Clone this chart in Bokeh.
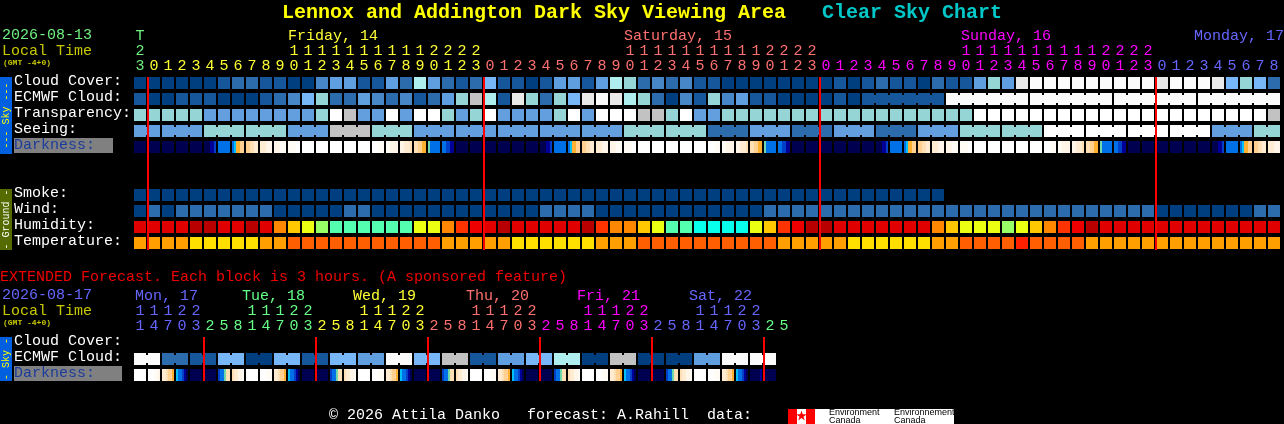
from math import pi
from bokeh.plotting import figure
from bokeh.models import ColumnDataSource
from bokeh.core.properties import value
from bokeh.embed import file_html
from bokeh.resources import INLINE

# ---------- data ----------
title_main = "Lennox and Addington Dark Sky Viewing Area"
title_chart = "Clear Sky Chart"

hours = [23] + list(range(24)) * 3 + list(range(9))
extended_hours = [11, 14, 17, 20, 23] + [2, 5, 8, 11, 14, 17, 20, 23] * 5 + [2, 5]

cloud_cover = [0,0,0,0,0,0,1,2,2,1,1,0,0,3,4,4,1,1,4,2,7,4,2,1,2,5,1,1,0,1,4,4,1,4,7,6,2,3,2,3,1,1,
               0,0,0,0,0,0,0,0,1,0,1,2,1,1,0,2,1,1,4,6,4,9,10,10,10,10,10,10,10,10,10,9,10,10,10,9,5,6,5,2]
ecmwf_values = [1,0,0,1,1,1,0,0,0,1,2,3,5,6,2,2,4,3,2,3,1,2,4,6,8,7,1,9,6,2,6,5,9,10,9,7,6,2,0,3,1,6,3,4,1,1,
                0,0,0,0,1,0,1,10,10,10,10]
ecmwf_spans = [1] * 52 + [6] * 5
# 1 blue, 2 teal, 3 grey, 4 white, 0 mid blue
transparency = [2]*5 + [1]*8 + [2,4,3,1,1,4,1,4,4,2,1,2,4,1,1,1,1,2,4,1,4,4,4,3,3,2,4,1,1] + [2]*18 + [4]*21 + [3]
seeing_values = [1,1,2,2,1,3,2,1,1,1,1,1,2,2,0,1,0,1,0,1,2,2,4,4,4,4,1,2]
seeing_spans = [2] + [3]*26 + [2]
darkness = ["NNNNNN"]*5 + ["NNNDDB","SSSSSS","SCOOPP","PPKKLL","LLLMMM","MMMVVV","VVVVWW"] + ["WWWWWW"]*5 + \
    ["WWWVVV","VVMMMM","MMLLLK","KKPPOO","GSSSSS","SSBBDD"] + ["NNNNNN"]*6 + \
    ["NNNDDB","SSSSSS","SCOOPP","PPKKLL","LLLMMM","MMMVVV","VVVVWW"] + ["WWWWWW"]*5 + \
    ["WWWVVV","VVMMMM","MMLLLK","KKPPOO","GSSSSS","SSBBDD"] + ["NNNNNN"]*6 + \
    ["NNNDDB","SSSSSS","SCOOPP","PPKKLL","LLLMMM","MMMVVV","VVVVWW"] + ["WWWWWW"]*5 + \
    ["WWWVVV","VVMMMM","MMLLLK","KKPPOO","GSSSSS","SSBBDD"] + ["NNNNNN"]*6 + \
    ["NNNDDB","SSSSSS","SCOOPP","PPKKLL","LLLMMM"]
smoke = [0] * 58
wind = [0,1,0,1,1,1,1,1,1,1,0,0,0,0,0,1,1,0,0,0,0,0,0,0,0,0,0,0,0,1,1,1,1] + [0]*12 + [1]*28 + [0]*7 + [1,1]
humidity = [1,1,1,1,0,0,1,1,0,1,4,5,6,7,8,8,8,8,8,8,6,6,4,3,2,1,0,1,1,1,1,1,0,3,4,4,5,6,8,8,9,9,9,9,6,5,3,2,0,0,1,1,
            1,1,1,1,1,4,5,6,6,6,7,6,5,4,3,2,0] + [1]*13
temperature = [1,1,1,1,0,0,0,0,0,1,1] + [2]*11 + [1]*5 + [0]*6 + [1]*3 + [2]*10 + [1]*5 + [0]*6 + [1,1,2,2,2,2,3,2,2,2,2] + [1]*14

ext_ecmwf_values = [10,2,1,5,0,5,1,5,4,10,5,8,1,4,5,7,0,8,0,0,4,10,10]
ext_ecmwf_spans = [2] * 23
ext_darkness = ["WWWWWW","WWWVVM","LLKPPO","CSSBDN","NNNNNN","NNNNNN","BSSGKK","KLLMMV","WWWWWW","WWWVVV","LLKPPO",
                "CSSBDN","NNNNNN","NNNNNN","BSSGKK","KLLMMV","WWWWWW","WWWVVV","LLKPPO","CSSBDN","NNNNNN","NNNNNN",
                "BSSGKK","KLLMMV","WWWWWW","WWWVVV","LLKPPO","CSSBDN","NNNNNN","NNNNNN","BSSGKK","KLLMMV","WWWWWW",
                "WWWVVV","LLKPPO","CSSBDN","NNNNNN","NNNNNN","BSSGKK","KLLMMV","WWWWWW","WWWVVV","LLKPPO","CSSBDN",
                "NNNNND","NNNNNN"]

main_days = [("Friday, 14", 288, "#FFFF33"), ("Saturday, 15", 624, "#FF7070"),
             ("Sunday, 16", 961, "#FF00FF"), ("Monday, 17", 1194, "#6666FF")]
ext_days = [("Mon, 17", 135, "#6666FF"), ("Tue, 18", 242, "#66FF88"), ("Wed, 19", 353, "#FFFF33"),
            ("Thu, 20", 466, "#FF7070"), ("Fri, 21", 577, "#FF00FF"), ("Sat, 22", 689, "#6666FF")]

sky_labels = ["Cloud Cover:", "ECMWF Cloud:", "Transparency:", "Seeing:"]
ground_labels = ["Smoke:", "Wind:", "Humidity:", "Temperature:"]

# ---------- palettes ----------
CLOUD = ["#003F7F","#16569A","#2C6CAC","#4787C7","#5F9FDF","#77B7F7","#95D5D5","#AEEEEE","#C2C2C2","#E9E9E9","#FBFBFB"]
SKY = {0:"#2C6CAC",1:"#639FDF",2:"#95D5D5",3:"#C2C2C2",4:"#FFFFFF"}
DARK = {"N":"#000050","D":"#000098","B":"#0040C8","S":"#0070E8","C":"#00C0F8","G":"#70D8A8","O":"#FFB030",
        "P":"#FFD090","K":"#FFE0B4","L":"#FFECD2","M":"#FFF5E8","V":"#FFFBF5","W":"#FFFFFF"}
WIND = ["#003F7F","#2C6CAC"]
HUM = ["#B80000","#E00000","#EE0000","#FF3300","#FF8800","#FFC800","#EAFF12","#99FF66","#55FFB0","#08FFEB"]
TEMP = ["#FFDF00","#FF9F00","#FF5F00","#FF2000"]
FONT = "Liberation Mono"
X0, PITCH, CELL = 134, 14, 12

p = figure(width=1285, height=425, x_range=(-0.5, 1284.5), y_range=(424.5, -0.5), toolbar_location=None,
           output_backend="svg", min_border=0, background_fill_color="black", border_fill_color="black")
p.axis.visible = False
p.grid.visible = False
p.outline_line_color = None
p.styles = {"position": "fixed", "left": "-1px", "top": "-1px"}


def boxes(l, r, t, b, c):
    p.quad(left=l, right=r, top=t, bottom=b, fill_color=c, line_color=None)


def row(vals, pal, y):
    l = [X0 + PITCH * i for i in range(len(vals))]
    boxes(l, [a + CELL for a in l], [y] * len(vals), [y + CELL] * len(vals), [pal[v] for v in vals])


def span_row(vals, spans, pal, y):
    l, r, t, b, c = [], [], [], [], []
    col = 0
    for v, s in zip(vals, spans):
        for k in range(s):
            a = X0 + PITCH * (col + k)
            l.append(a); r.append(a + CELL); t.append(y); b.append(y + CELL); c.append(pal[v])
            if k < s - 1:  # bridge to the next hour of the same block
                l.append(a + CELL); r.append(a + PITCH); t.append(y + 2); b.append(y + CELL - 2); c.append(pal[v])
        col += s
    boxes(l, r, t, b, c)


def dark_row(cells, y):
    l, r, c = [], [], []
    for i, cell in enumerate(cells):
        w = CELL / len(cell)
        for k, ch in enumerate(cell):
            a = X0 + PITCH * i + k * w
            l.append(a); r.append(a + w); c.append(DARK[ch])
    boxes(l, r, [y] * len(l), [y + CELL] * len(l), c)


def txt(x, y, s, color, size=15, align="left", bold=False, angle=0, baseline="alphabetic", font=FONT):
    if baseline == "alphabetic":
        y = y - 0.33 * size
    p.text(x=[x], y=[y], text=[s], text_color=color, text_font=value(font), text_font_size=f"{size}px",
           text_align=align, text_baseline="middle", angle=angle,
           text_font_style="bold" if bold else "normal")


# titles
txt(282, 19, title_main, "#FFFF00", 20, bold=True)
txt(822, 19, title_chart, "#00C8C8", 20, bold=True)

# sidebars
boxes([0, 0, 0], [12, 12, 12], [77, 189, 337], [154, 250, 381], ["#0060E0", "#556B00", "#0060E0"])
txt(6, 115.5, "--- Sky ---", "#FFFF00", 10, "center", angle=pi / 2, baseline="middle")
txt(6, 219.5, "- Ground -", "#FFFFFF", 10, "center", angle=pi / 2, baseline="middle")
txt(6, 359, "- Sky -", "#FFFF00", 10, "center", angle=pi / 2, baseline="middle")

# main header
txt(2, 39, "2026-08-13", "#70F080")
txt(2, 56, "Local Time", "#C8C800")
txt(3, 65, "(GMT -4+0)", "#C8C800", 8, bold=True)
txt(140, 41, "T", "#70F080", align="center")
txt(140, 55, "2", "#70F080", align="center")
for d in main_days:
    txt(d[1], 41, d[0], d[2])
pal_cycle = ["#FFFF33", "#FF7070", "#FF00FF", "#6666FF"]
for i, h in enumerate(hours):
    col = "#70F080" if i == 0 else pal_cycle[(i - 1) // 24]
    x = X0 + PITCH * i + 6
    if i > 0 and h >= 10:
        txt(x, 55, str(h // 10), col, align="center")
    txt(x, 70, str(h % 10), col, align="center")

# main rows
for i, s in enumerate(sky_labels):
    txt(14, 86 + 16 * i, s, "#FFFFFF")
boxes([14], [113], [138], [153], ["#808080"])
txt(14, 150, "Darkness:", "#1C3C9C")
row(cloud_cover, CLOUD, 77)
span_row(ecmwf_values, ecmwf_spans, CLOUD, 93)
row(transparency, SKY, 109)
span_row(seeing_values, seeing_spans, SKY, 125)
dark_row(darkness, 141)
for i, s in enumerate(ground_labels):
    txt(14, 198 + 16 * i, s, "#FFFFFF")
row(smoke, WIND, 189)
row(wind, WIND, 205)
row(humidity, HUM, 221)
row(temperature, TEMP, 237)

red_cols = [1, 25, 49, 73]
boxes([X0 + PITCH * c - 1 for c in red_cols], [X0 + PITCH * c + 1 for c in red_cols], [77] * 4, [250] * 4, ["#FF0000"] * 4)

# extended section
txt(0, 282, "EXTENDED Forecast. Each block is 3 hours. (A sponsored feature)", "#F00000")
txt(2, 299, "2026-08-17", "#6666FF")
txt(2, 316, "Local Time", "#C8C800")
txt(3, 325, "(GMT -4+0)", "#C8C800", 8, bold=True)
for d in ext_days:
    txt(d[1], 301, d[0], d[2])
ext_cycle = ["#6666FF", "#66FF88", "#FFFF33", "#FF7070", "#FF00FF", "#6666FF", "#66FF88"]
for i, h in enumerate(extended_hours):
    col = ext_cycle[(i + 3) // 8]
    x = X0 + PITCH * i + 6
    if h >= 10:
        txt(x, 315, str(h // 10), col, align="center")
    txt(x, 330, str(h % 10), col, align="center")
txt(14, 346, "Cloud Cover:", "#FFFFFF")
txt(14, 362, "ECMWF Cloud:", "#FFFFFF")
boxes([14], [122], [366], [381], ["#808080"])
txt(14, 378, "Darkness:", "#1C3C9C")
span_row(ext_ecmwf_values, ext_ecmwf_spans, CLOUD, 353)
dark_row(ext_darkness, 369)
ext_red = [5, 13, 21, 29, 37, 45]
boxes([X0 + PITCH * c - 1 for c in ext_red], [X0 + PITCH * c + 1 for c in ext_red], [337] * 6, [381] * 6, ["#FF0000"] * 6)

# footer
txt(329, 420, "\u00a9 2026 Attila Danko", "#FFFFFF")
txt(527, 420, "forecast: A.Rahill", "#FFFFFF")
txt(707, 420, "data:", "#FFFFFF")
boxes([788], [954], [409], [424], ["#FFFFFF"])
boxes([788, 806], [797, 815], [409, 409], [424, 424], ["#FF0000", "#FF0000"])
p.scatter(x=[801.5], y=[416], marker="star", size=11, fill_color="#FF0000", line_color=None)
txt(829, 415, "Environment", "#000000", 9, font="Liberation Sans")
txt(829, 423, "Canada", "#000000", 9, font="Liberation Sans")
txt(894, 415, "Environnement", "#000000", 9, font="Liberation Sans")
txt(894, 423, "Canada", "#000000", 9, font="Liberation Sans")

open("out.html", "w").write(file_html(p, INLINE))
